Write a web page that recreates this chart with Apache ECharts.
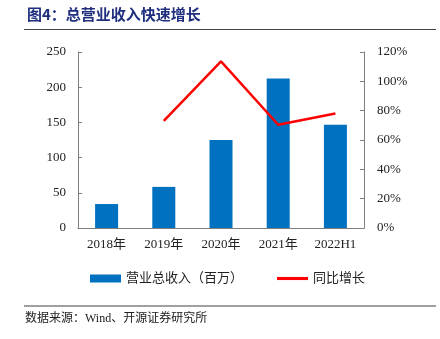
<!DOCTYPE html>
<html>
<head>
<meta charset="utf-8">
<script src="https://cdn.jsdelivr.net/npm/echarts@6/dist/echarts.min.js"></script>
<style>
  html, body { margin: 0; padding: 0; background: #fff; }
  #chart { width: 440px; height: 339px; }
</style>
</head>
<body>
<div id="chart"></div>
<script>
// Revenue (millions CNY) and year-on-year growth
var categories = ['2018年', '2019年', '2020年', '2021年', '2022H1'];
var revenue = [34, 58.4, 125, 212.3, 146.6];
var growth = [null, 73.1, 113.6, 70.4, 78.1];
var leftTicks = [0, 250, 50];
var rightTicks = [0, 120, 20];

var serif = '"Liberation Serif", "Times New Roman", "Noto Sans CJK SC", serif';
var axisGray = '#7f7f7f';

var chart = echarts.init(document.getElementById('chart'));
chart.setOption({
  animation: false,
  backgroundColor: '#fff',
  grid: { left: 78, right: 76, top: 52, bottom: 111 },
  graphic: [
    { type: 'text', left: 27, top: 7,
      style: { text: '图4：总营业收入快速增长', fill: '#1f2f7e',
               font: 'bold 15px "Noto Sans CJK SC", sans-serif' } },
    { type: 'line', shape: { x1: 24, y1: 29.5, x2: 436, y2: 29.5 },
      style: { stroke: '#404040', lineWidth: 1 } },
    { type: 'line', shape: { x1: 24, y1: 306, x2: 436, y2: 306 },
      style: { stroke: '#808080', lineWidth: 1.5 } },
    { type: 'text', left: 25, top: 313,
      style: { text: '数据来源：Wind、开源证券研究所', fill: '#222',
               font: '12px ' + serif } }
  ],
  legend: {
    top: 272,
    left: 90,
    padding: 0,
    itemGap: 34,
    itemWidth: 31,
    itemHeight: 8,
    textStyle: { fontFamily: serif, fontSize: 13, color: '#222' },
    data: [
      { name: '营业总收入（百万）', icon: 'rect' },
      { name: '同比增长', icon: 'path://M0,0L30,0L30,3L0,3Z' }
    ]
  },
  xAxis: {
    type: 'category',
    data: categories,
    axisLine: { lineStyle: { color: axisGray, width: 1 } },
    axisTick: { inside: true, length: 4, lineStyle: { color: axisGray } },
    axisLabel: { fontFamily: serif, fontSize: 13, color: '#222', margin: 10 }
  },
  yAxis: [
    {
      type: 'value', min: leftTicks[0], max: leftTicks[1], interval: leftTicks[2],
      axisLine: { show: true, lineStyle: { color: axisGray } },
      axisTick: { show: true, inside: true, length: 4, lineStyle: { color: axisGray } },
      axisLabel: { fontFamily: serif, fontSize: 13, color: '#222', margin: 12 },
      splitLine: { show: false }
    },
    {
      type: 'value', min: rightTicks[0], max: rightTicks[1], interval: rightTicks[2],
      position: 'right',
      axisLine: { show: true, lineStyle: { color: axisGray } },
      axisTick: { show: true, inside: true, length: 4, lineStyle: { color: axisGray } },
      axisLabel: { fontFamily: serif, fontSize: 13, color: '#222', margin: 13,
                   formatter: '{value}%' },
      splitLine: { show: false }
    }
  ],
  series: [
    {
      name: '营业总收入（百万）', type: 'bar', data: revenue, barWidth: 23,
      itemStyle: { color: '#0070c0' }
    },
    {
      name: '同比增长', type: 'line', yAxisIndex: 1, data: growth,
      symbol: 'none', connectNulls: false,
      lineStyle: { color: '#ff0000', width: 2.5 },
      itemStyle: { color: '#ff0000' }
    }
  ]
});
</script>
</body>
</html>
